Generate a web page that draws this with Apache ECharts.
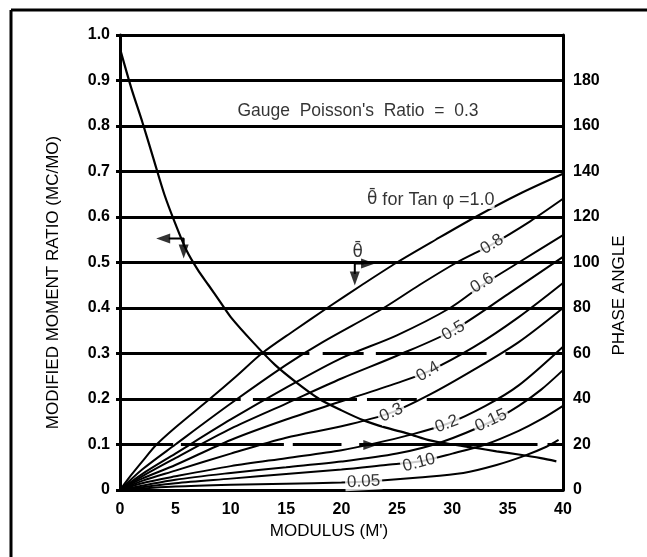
<!DOCTYPE html>
<html>
<head>
<meta charset="utf-8">
<script src="https://cdn.jsdelivr.net/npm/echarts@6/dist/echarts.min.js"></script>
<style>
  html, body { margin: 0; padding: 0; background: #fff; }
  #chart { width: 647px; height: 557px; }
</style>
</head>
<body>
<div id="chart"></div>
<script>
// moment ratio curve (left axis) : [modulus, MC/MO]
const momentRatio = [
  [0, 0.97], [1, 0.885], [2, 0.81], [3, 0.73], [4, 0.65], [5, 0.585], [6, 0.527],
  [7, 0.485], [8, 0.45], [9, 0.415], [10, 0.38], [12, 0.325], [14, 0.275],
  [16, 0.235], [18, 0.2], [20, 0.175], [22, 0.153], [24, 0.137], [26, 0.124],
  [28, 0.109], [30, 0.1], [32, 0.093], [34, 0.085], [36, 0.078], [38, 0.07], [39.4, 0.063]
]

// phase angle curves (right axis, degrees) for each Tan phi
const phase10 = [[0, 0], [1, 6.5], [2, 12.5], [3.3, 20], [5, 27.5], [8.1, 40], [10.5, 50], [12.8, 60],
  [15.7, 70], [18.7, 80], [21.8, 90], [25, 100], [28.5, 110], [32.1, 120], [36, 130], [40, 139]]
const phase08 = [[0, 0], [2, 9], [5, 20], [10, 38], [15, 55], [18.3, 65], [23.8, 80], [27, 90],
  [30.4, 100], [33.6, 108], [37, 118], [40, 128]]
const phase06 = [[0, 0], [2, 7], [5, 16], [10, 31], [15, 45], [20, 58], [25, 68], [29.8, 80],
  [32.7, 90], [36, 100], [40, 112]]
const phase05 = [[0, 0], [2, 6], [5, 14], [10, 27], [15, 38], [20, 49], [25, 59], [30, 70],
  [35, 86], [40, 102.5]]
const phase04 = [[0, 0], [2, 5], [5, 11], [10, 22], [15, 31], [20, 39], [25, 47], [27.8, 52],
  [32, 63], [36, 76], [40, 91]]
const phase03 = [[0, 0], [2, 4], [5, 8.5], [10, 16], [15, 23], [20, 28], [24.5, 34], [28, 42],
  [32, 53], [36, 65], [40, 80]]
const phase02 = [[0, 0], [2, 3], [5, 6], [10, 10.5], [15, 14], [20, 17.5], [23, 20.5], [26, 24],
  [29.5, 29], [33, 37], [36, 46], [40, 63]]
const phase015 = [[0, 0], [5, 4.5], [10, 7.5], [15, 10], [20, 12.5], [25, 16], [29, 21],
  [33.5, 30], [36, 37], [38, 44], [40, 52.7]]
const phase010 = [[0, 0], [5, 3], [10, 5], [15, 7], [20, 9], [24, 11], [27, 12.5], [30, 16],
  [33, 20], [36, 26], [38, 31], [40, 37]]
const phase005 = [[0, 0], [5, 1.5], [10, 2.3], [15, 2.8], [20, 3.3], [23, 4], [27, 5.5],
  [31, 7.5], [34, 11], [36.5, 15], [38.5, 19], [39.6, 22]]

// curve labels (right axis units)
const tanLabels = ['0.8', '0.6', '0.5', '0.4', '0.3', '0.2', '0.15', '0.10', '0.05']
const tanLabelPos = [[33.6, 108], [32.7, 91], [30.1, 70], [27.8, 52], [24.5, 34], [29.5, 29],
  [33.5, 30.5], [27, 12], [22, 3.6]]
const tanLabelRot = [32, 32, 30, 30, 25, 20, 25, 15, 3]

// breaks in the 0.1 / 0.2 / 0.3 grid lines, modulus ranges
const gaps01 = [[4.8, 5.5], [14.8, 15.6], [20.0, 21.6], [37.7, 38.6]]
const gaps02 = [[10.9, 12.0], [21.4, 22.3], [26.8, 27.7]]
const gaps03 = [[17.1, 18.3], [22.0, 23.1], [33.1, 34.8]]

// arrows: [x, y, rotate]
const momentArrowStem = [[4.4, 0.553], [5.75, 0.553], [5.75, 0.535]]
const momentArrowHeads = [[3.9, 0.553, 90], [5.75, 0.524, 180]]
const phaseArrowStem = [[22.0, 99.6], [21.2, 99.6], [21.2, 95]]
const phaseArrowHeads = [[22.4, 99.6, -90], [21.2, 93, 180], [22.6, 19.8, -90]]

const font = '"Liberation Sans", Arial, sans-serif'
const ink = '#000'

const chart = echarts.init(document.getElementById('chart'))

const phaseCurves = [phase10, phase08, phase06, phase05, phase04, phase03, phase02, phase015, phase010, phase005]

// θ with a bar on top, drawn in DejaVu so the combining macron sits right
const thetaRich = {
  th: { fontFamily: '"DejaVu Sans"', fontSize: 17, color: ink },
  t: { fontFamily: font, fontSize: 18, color: ink }
}

const gapCoords = [[gaps01, 0.1], [gaps02, 0.2], [gaps03, 0.3]]
  .flatMap(([g, y]) => g.map(([a, b]) => ({ coords: [[a, y], [b, y]] })))

const series = [
  {
    // white breaks laid over the grid lines, under the curves
    type: 'lines', coordinateSystem: 'cartesian2d', yAxisIndex: 0, z: 2, silent: true,
    lineStyle: { color: '#fff', width: 5, opacity: 1 },
    data: gapCoords
  },
  {
    type: 'line', yAxisIndex: 0, data: momentRatio, smooth: 0.3, symbol: 'none',
    lineStyle: { color: ink, width: 2.2 }, z: 3
  },
  ...phaseCurves.map((d) => ({
    type: 'line', yAxisIndex: 1, data: d, smooth: 0.3, symbol: 'none',
    lineStyle: { color: ink, width: 2 }, z: 3
  })),
  {
    type: 'scatter', yAxisIndex: 1, symbolSize: 0, z: 10,
    data: tanLabels.map((t, i) => ({ name: t, value: tanLabelPos[i], label: { rotate: tanLabelRot[i] } })),
    label: {
      show: true, position: 'inside', formatter: (p) => p.name,
      fontFamily: font, fontSize: 17, color: ink, backgroundColor: '#fff', padding: [0, 2]
    }
  },
  {
    type: 'scatter', yAxisIndex: 1, symbolSize: 0, z: 10,
    data: [
      { name: '{th|θ\u0304}{t| for Tan φ =1.0}', value: [22.3, 127.5] },
      { name: '{th|θ\u0304}', value: [21.0, 104.5] }
    ],
    label: {
      show: true, position: 'right', distance: 0, formatter: (p) => p.name,
      rich: thetaRich, backgroundColor: '#fff'
    }
  },
  {
    type: 'scatter', yAxisIndex: 0, symbolSize: 0, z: 10,
    data: [{ name: "Gauge  Poisson's  Ratio  =  0.3", value: [10.6, 0.832] }],
    label: {
      show: true, position: 'right', distance: 0, formatter: (p) => p.name,
      fontFamily: font, fontSize: 17.5, color: ink
    }
  },
  {
    type: 'line', yAxisIndex: 0, data: momentArrowStem, symbol: 'none',
    lineStyle: { color: ink, width: 2 }, z: 4
  },
  {
    type: 'line', yAxisIndex: 1, data: phaseArrowStem, symbol: 'none',
    lineStyle: { color: ink, width: 2 }, z: 4
  },
  {
    type: 'scatter', yAxisIndex: 0, symbol: 'triangle', symbolSize: [10, 14], z: 11,
    itemStyle: { color: ink },
    data: momentArrowHeads.map((a) => ({ value: [a[0], a[1]], symbolRotate: a[2] }))
  },
  {
    type: 'scatter', yAxisIndex: 1, symbol: 'triangle', symbolSize: [10, 14], z: 11,
    itemStyle: { color: ink },
    data: phaseArrowHeads.map((a) => ({ value: [a[0], a[1]], symbolRotate: a[2] }))
  }
]

const option = {
  backgroundColor: '#fff',
  animation: false,
  grid: { left: 120, right: 84, top: 35, bottom: 67 },
  xAxis: {
    type: 'value', min: 0, max: 40, interval: 5,
    name: "MODULUS (M')", nameLocation: 'middle', nameGap: 31,
    nameTextStyle: { fontFamily: font, fontSize: 17, color: ink, padding: [0, 25, 0, 0] },
    axisLine: { lineStyle: { color: ink, width: 3 } },
    axisTick: { show: false },
    axisLabel: { fontFamily: font, fontSize: 16, fontWeight: 'bold', color: ink, margin: 12 },
    splitLine: { show: false }
  },
  yAxis: [
    {
      type: 'value', min: 0, max: 1, interval: 0.1,
      name: 'MODIFIED MOMENT RATIO (MC/MO)', nameLocation: 'middle', nameGap: 58, nameRotate: 90,
      nameTextStyle: { fontFamily: font, fontSize: 17, color: ink, padding: [0, 40, 0, 0] },
      axisLine: { show: true, lineStyle: { color: ink, width: 3 } },
      axisTick: { show: true, length: 4, lineStyle: { color: ink, width: 3 } },
      axisLabel: {
        fontFamily: font, fontSize: 16, fontWeight: 'bold', color: ink, margin: 10,
        formatter: (v) => (v === 0 ? '0' : v.toFixed(1))
      },
      splitLine: { show: true, lineStyle: { color: ink, width: 3 } }
    },
    {
      type: 'value', min: 0, max: 200, interval: 20, position: 'right',
      name: 'PHASE ANGLE', nameLocation: 'middle', nameGap: 45, nameRotate: 90,
      nameTextStyle: { fontFamily: font, fontSize: 17, color: ink, padding: [0, 66, 0, 0] },
      axisLine: { show: true, lineStyle: { color: ink, width: 3 } },
      axisTick: { show: false },
      axisLabel: {
        fontFamily: font, fontSize: 16, fontWeight: 'bold', color: ink, margin: 10,
        formatter: (v) => (v === 200 ? '' : String(v))
      },
      splitLine: { show: false }
    }
  ],
  graphic: [
    { type: 'line', shape: { x1: 11, y1: 10, x2: 11, y2: 557 }, style: { stroke: ink, lineWidth: 3 } },
    { type: 'line', shape: { x1: 11, y1: 10, x2: 647, y2: 10 }, style: { stroke: ink, lineWidth: 3 } }
  ],
  series
}

chart.setOption(option)
</script>
</body>
</html>
